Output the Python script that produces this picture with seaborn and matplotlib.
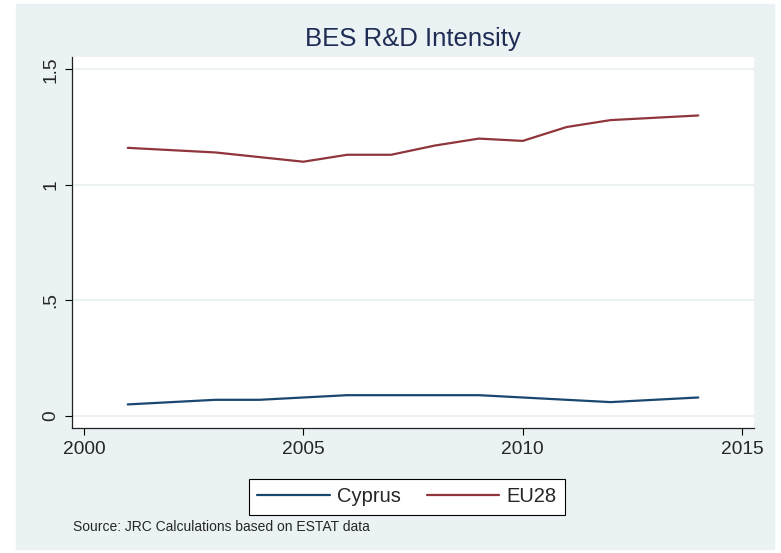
import numpy as np
import pandas as pd
import matplotlib
matplotlib.use("Agg")
import matplotlib.pyplot as plt
import seaborn as sns
from matplotlib.patches import Rectangle

# Datos
years = [2001, 2002, 2003, 2004, 2005, 2006, 2007, 2008, 2009, 2010, 2011, 2012, 2013, 2014]
cyprus = [0.05, 0.06, 0.07, 0.07, 0.08, 0.09, 0.09, 0.09, 0.09, 0.08, 0.07, 0.06, 0.07, 0.08]
eu28 = [1.16, 1.15, 1.14, 1.12, 1.10, 1.13, 1.13, 1.17, 1.20, 1.19, 1.25, 1.28, 1.29, 1.30]
series = ['Cyprus', 'EU28']
colores = ['#1A476F', '#90353B']
yticks = [0, 0.5, 1, 1.5]
yticklabels = ['0', '.5', '1', '1.5']
xticks = [2000, 2005, 2010, 2015]

df = pd.DataFrame({
    'year': years * 2,
    'value': cyprus + eu28,
    'geo': ['Cyprus'] * len(years) + ['EU28'] * len(years),
})

sns.set_style('white')
plt.rcParams['font.family'] = ['Liberation Sans', 'DejaVu Sans']

fig = plt.figure(figsize=(7.81, 5.53), dpi=100, facecolor='white')
W, H = 781, 553
# fondo del gráfico (estilo Stata)
fondo = Rectangle((16 / W, 1 - 549 / H), (774 - 16) / W, (549 - 4) / H,
                  transform=fig.transFigure, color='#EAF2F3', zorder=-10)
fig.patches.append(fondo)

ax = fig.add_axes([72 / W, 1 - 428 / H, (754 - 72) / W, (428 - 57) / H])
ax.set_facecolor('white')

sns.lineplot(data=df, x='year', y='value', hue='geo', hue_order=series,
             palette=colores, linewidth=1.6, ax=ax, legend=False)

ax.set_xlim(1999.73, 2015.27)
ax.set_ylim(-0.052, 1.553)
ax.set_xticks(xticks)
ax.set_xticklabels([str(x) for x in xticks], fontsize=13.8)
ax.set_yticks(yticks)
ax.set_yticklabels(yticklabels, fontsize=13.8, rotation=90, va='center')
ax.tick_params(axis='both', direction='out', length=5, width=0.8, color='black', pad=4)
ax.tick_params(axis='both', bottom=True, left=True)
ax.set_xlabel('')
ax.set_ylabel('')
ax.grid(axis='y', color='#EAF2F3', linewidth=1.4)
ax.grid(axis='x', visible=False)
for s in ['top', 'right']:
    ax.spines[s].set_visible(False)
for s in ['left', 'bottom']:
    ax.spines[s].set_color('#222222')
    ax.spines[s].set_linewidth(0.9)

ax.set_title('BES R&D Intensity', fontsize=18.5, color='#1F2D55', pad=8)

handles = [plt.Line2D([], [], color=c, linewidth=1.6) for c in colores]
leg = fig.legend(handles, series, loc='center', bbox_to_anchor=(407 / W, 1 - 497 / H),
                 ncol=2, fontsize=14.5, frameon=True, fancybox=False, edgecolor='black',
                 framealpha=1, handlelength=3.6, handletextpad=0.35, columnspacing=1.3,
                 borderpad=0.4, borderaxespad=0)
leg.get_frame().set_linewidth(0.8)

fig.text(73 / W, 1 - 527 / H, 'Source: JRC Calculations based on ESTAT data',
         fontsize=10, va='center', ha='left')

fig.savefig('out.png', dpi=100, facecolor='white')
